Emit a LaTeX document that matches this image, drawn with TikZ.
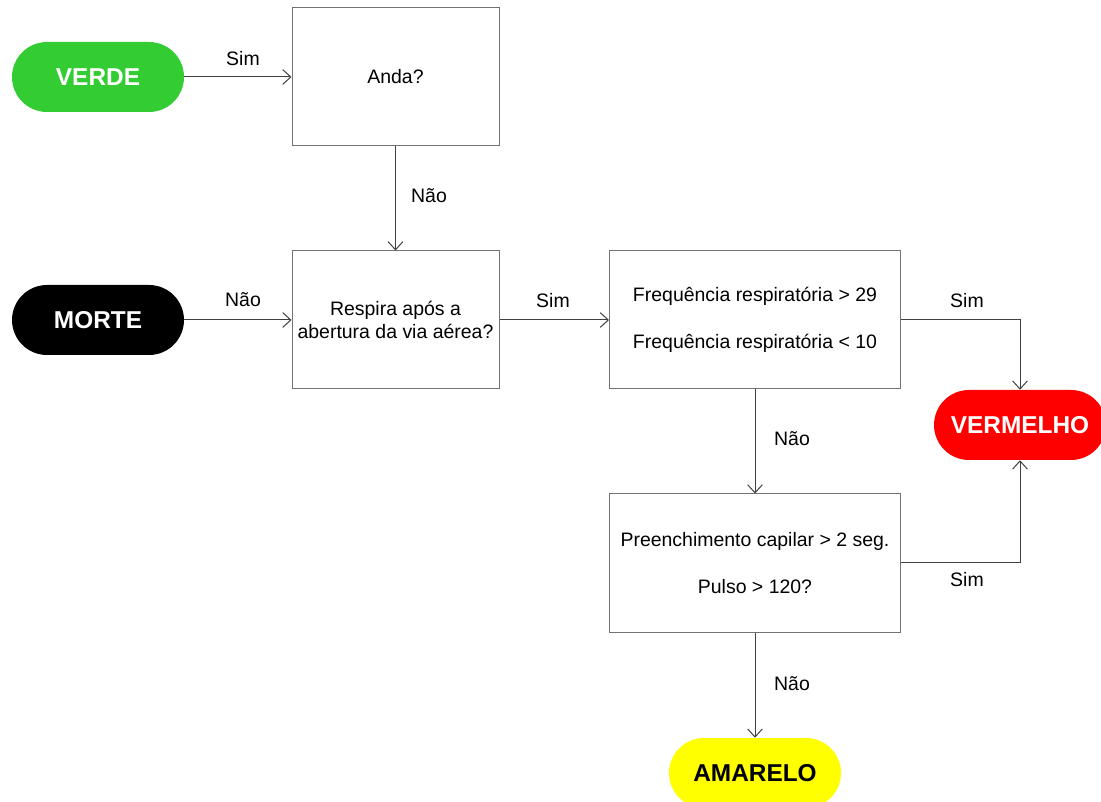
\documentclass[tikz,border=0pt]{standalone}
\usepackage{fontspec}
\setmainfont{Liberation Sans}
\usetikzlibrary{arrows.meta}
\definecolor{verdeclaro}{RGB}{51,204,51}
\definecolor{vermelhovivo}{RGB}{255,0,0}
\definecolor{amarelovivo}{RGB}{255,255,0}

\begin{document}
\begin{tikzpicture}[x=0.75pt,y=-0.75pt,
	caixa/.style={draw=black!55,line width=0.75pt,minimum width=155.25pt,minimum height=103.5pt,align=center,font=\fontsize{14.6}{17}\selectfont},
	larga/.style={caixa,minimum width=218.25pt},
	fim/.style={rounded corners=26.25pt,minimum width=129pt,minimum height=52.5pt,font=\fontsize{18.3}{22}\selectfont\bfseries},
	seta/.style={draw=black!75,line width=0.75pt,-{Straight Barb[length=6pt,width=11pt]}},
	rotulo/.style={font=\fontsize{14.6}{17}\selectfont}]
	\useasboundingbox (0,0) rectangle (1101,802);
	\clip (0,0) rectangle (1101,802);
	% terminais
	\node[fim,fill=verdeclaro,text=white] (verde) at (98,77) {VERDE};
	\node[fim,fill=black,text=white] (morte) at (98,320) {MORTE};
	\node[fim,fill=vermelhovivo,text=white] (vermelho) at (1020,425) {VERMELHO};
	\node[fim,fill=amarelovivo,text=black] (amarelo) at (755,773) {AMARELO};
	% perguntas
	\node[caixa] (anda) at (395.5,77) {Anda?};
	\node[caixa] (respira) at (395.5,320) {Respira após a\\abertura da via aérea?};
	\node[larga] (freq) at (755,320) {Frequência respiratória > 29\\[18.25pt]Frequência respiratória < 10};
	\node[larga] (preench) at (755,563) {Preenchimento capilar > 2 seg.\\[18.25pt]Pulso > 120?};
	% ligacoes
	\draw[seta] (verde) -- (anda);
	\draw[seta] (anda) -- (respira);
	\draw[seta] (morte) -- (respira);
	\draw[seta] (respira) -- (freq);
	\draw[seta] (freq.east) -| (vermelho.north);
	\draw[seta] (freq) -- (preench);
	\draw[seta] (preench.east) -| (vermelho.south);
	\draw[seta] (preench) -- (amarelo);
	% rotulos
	\node[rotulo] (sim1) at (243,59) {Sim};
	\node[rotulo] (nao1) at (429,196) {Não};
	\node[rotulo] (nao2) at (243,300) {Não};
	\node[rotulo] (sim2) at (553,301) {Sim};
	\node[rotulo] (sim3) at (967,301) {Sim};
	\node[rotulo] (nao3) at (792,439) {Não};
	\node[rotulo] (sim4) at (967,580) {Sim};
	\node[rotulo] (nao4) at (792,684) {Não};
\end{tikzpicture}
\end{document}
